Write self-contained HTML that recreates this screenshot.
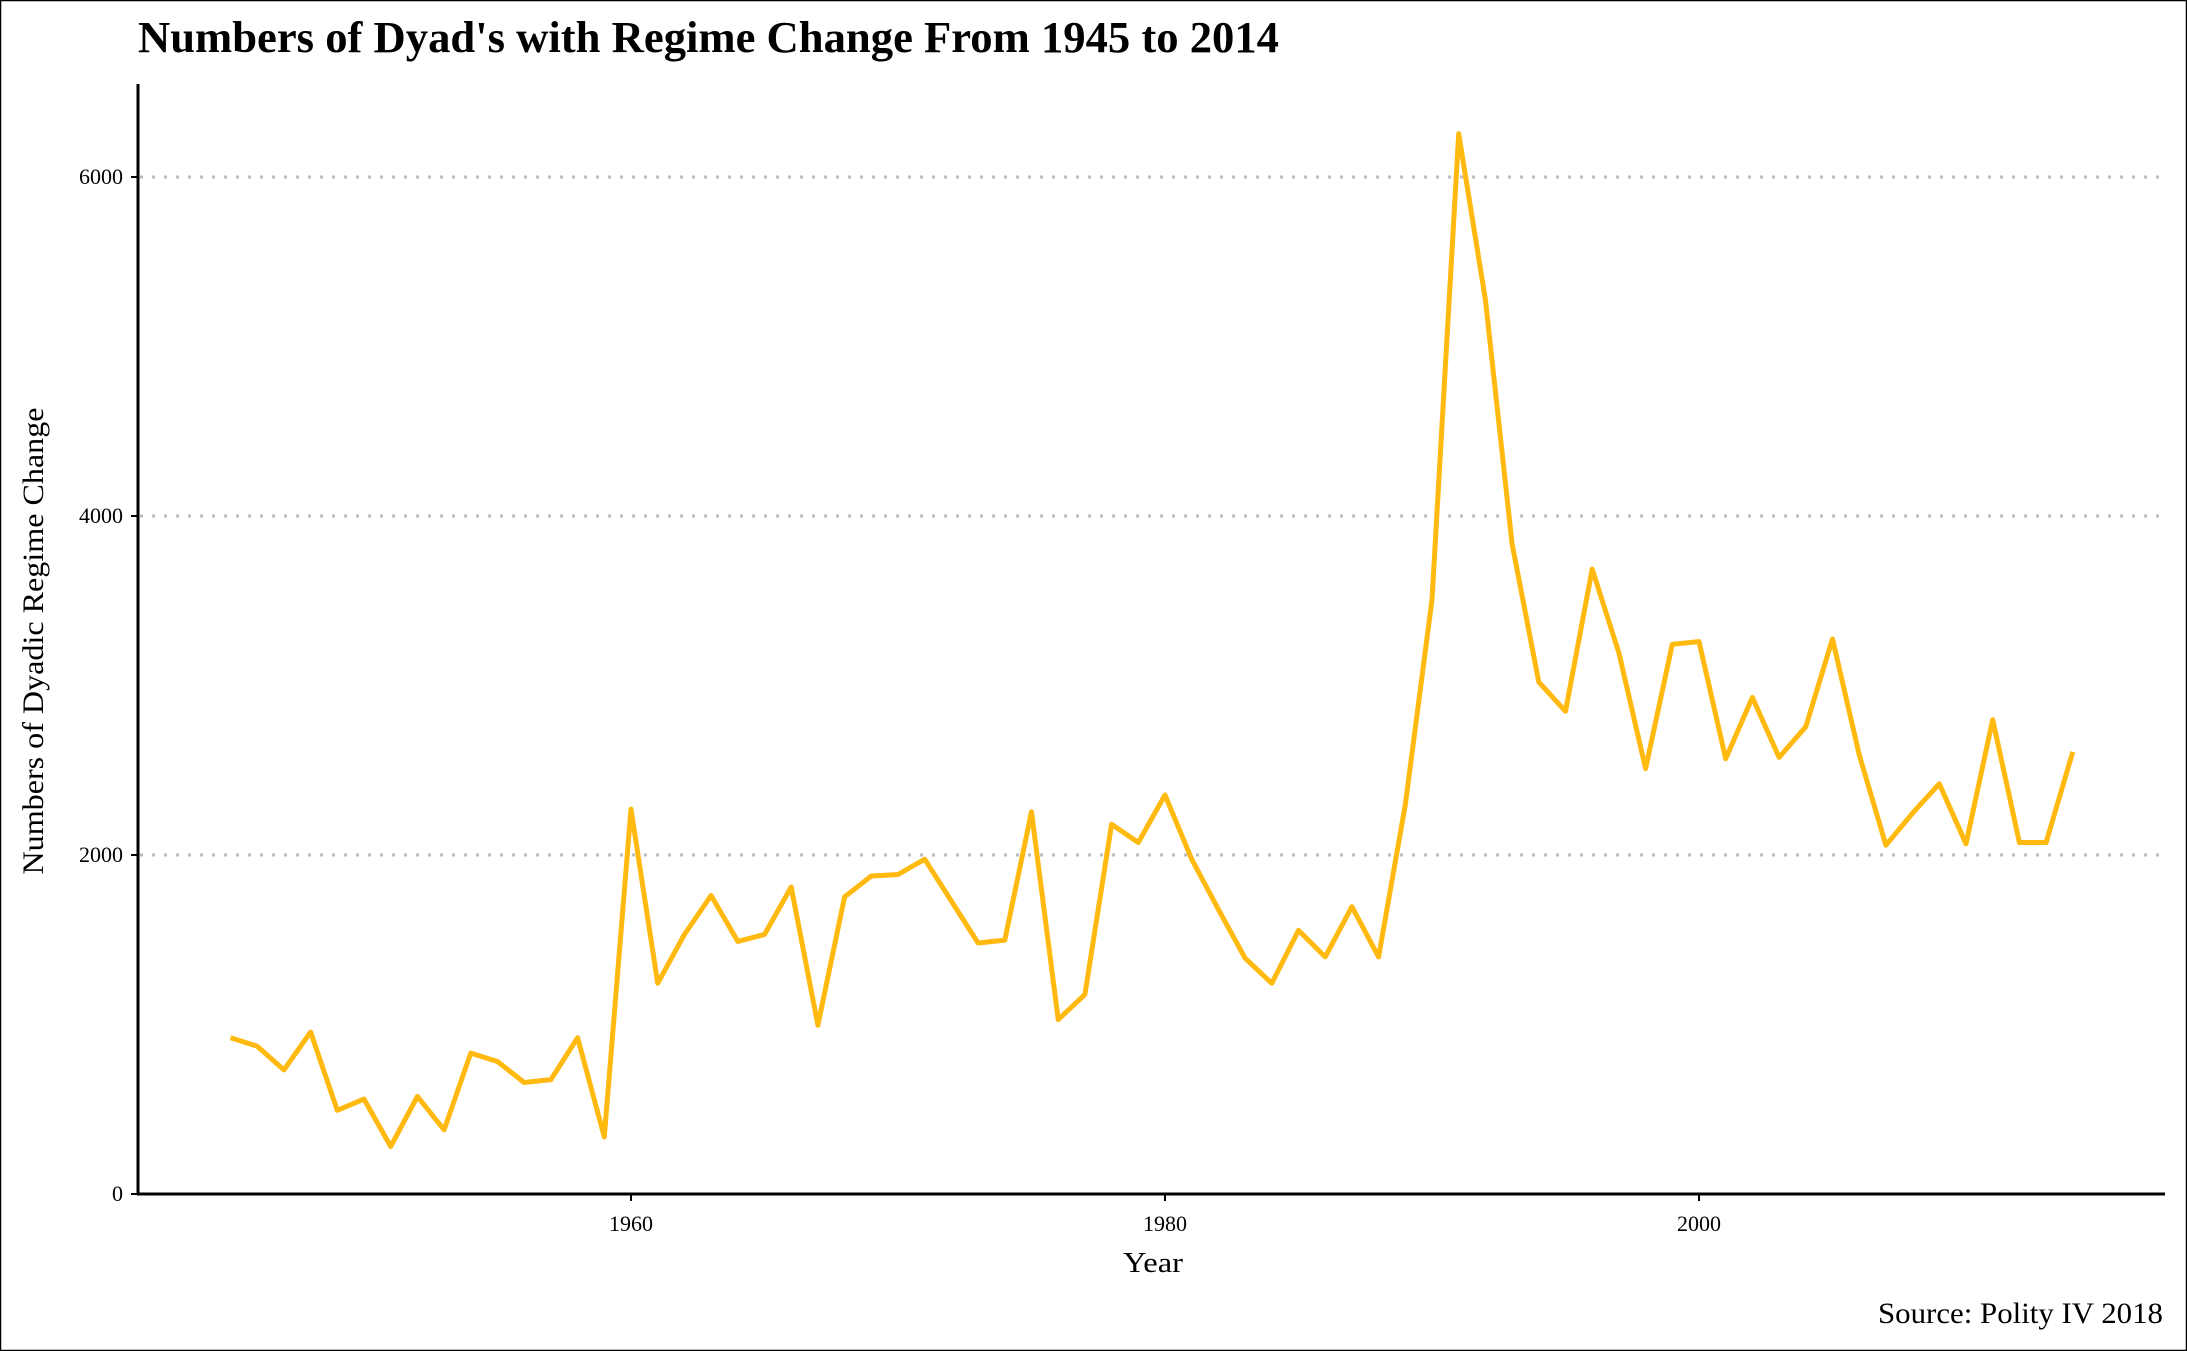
<!DOCTYPE html>
<html><head><meta charset="utf-8"><style>
html,body{margin:0;padding:0;background:#fff;}
svg{display:block;}
text{font-family:"Liberation Serif",serif;fill:#000;}
</style></head><body>
<svg id="chart" width="2187" height="1351" viewBox="0 0 2187 1351">
<rect x="0.5" y="0.5" width="2186" height="1350" fill="#fff" stroke="#000" stroke-width="1.5"/>
<text x="138" y="52" font-size="44" font-weight="bold" textLength="1141" lengthAdjust="spacingAndGlyphs">Numbers of Dyad's with Regime Change From 1945 to 2014</text>
<g id="grid"></g>
<g id="yticks"></g>
<g id="xticks"></g>
<line x1="138" y1="84" x2="138" y2="1195" stroke="#000" stroke-width="3"/>
<line x1="137" y1="1194" x2="2165" y2="1194" stroke="#000" stroke-width="3"/>
<path id="series" fill="none" stroke="#FFB90F" stroke-width="5" stroke-linejoin="round"/>
<text x="1153" y="1272" font-size="29" text-anchor="middle" textLength="60" lengthAdjust="spacingAndGlyphs">Year</text>
<text transform="translate(43,641) rotate(-90)" font-size="30" text-anchor="middle" textLength="467" lengthAdjust="spacingAndGlyphs">Numbers of Dyadic Regime Change</text>
<text x="2163" y="1323" font-size="30" text-anchor="end" textLength="285" lengthAdjust="spacingAndGlyphs">Source: Polity IV 2018</text>
</svg>
<script>
const years = [1945,1946,1947,1948,1949,1950,1951,1952,1953,1954,1955,1956,1957,1958,1959,1960,1961,1962,1963,1964,1965,1966,1967,1968,1969,1970,1971,1972,1973,1974,1975,1976,1977,1978,1979,1980,1981,1982,1983,1984,1985,1986,1987,1988,1989,1990,1991,1992,1993,1994,1995,1996,1997,1998,1999,2000,2001,2002,2003,2004,2005,2006,2007,2008,2009,2010,2011,2012,2013,2014];
const values = [922,872,732,955,494,560,280,576,379,831,782,658,675,922,337,2271,1243,1531,1761,1490,1531,1811,996,1753,1876,1885,1975,1728,1481,1498,2255,1029,1177,2181,2074,2354,1975,1679,1391,1243,1555,1399,1695,1399,2296,3506,6255,5276,3835,3020,2848,3687,3193,2510,3243,3259,2568,2930,2576,2757,3275,2592,2058,2247,2420,2066,2798,2074,2074,2609];
const yTicks = [0,2000,4000,6000];
const xTicks = [1960,1980,2000];
const NS='http://www.w3.org/2000/svg';
function xs(yr){return 631+(yr-1960)*26.7;}
function ys(v){return 1194-v*0.1695;}
const grid=document.getElementById('grid'), yt=document.getElementById('yticks'), xt=document.getElementById('xticks');
yTicks.forEach(t=>{
  if(t>0){
    const g=document.createElementNS(NS,'line');
    g.setAttribute('x1',140);g.setAttribute('x2',2165);g.setAttribute('y1',ys(t));g.setAttribute('y2',ys(t));
    g.setAttribute('stroke','#bdbdbd');g.setAttribute('stroke-width','3');g.setAttribute('stroke-dasharray','3,9');
    
    
    grid.appendChild(g);
  }
  const tk=document.createElementNS(NS,'line');
  tk.setAttribute('x1',131);tk.setAttribute('x2',138);tk.setAttribute('y1',ys(t));tk.setAttribute('y2',ys(t));
  tk.setAttribute('stroke','#000');tk.setAttribute('stroke-width','2');
  
  
  yt.appendChild(tk);
  const tx=document.createElementNS(NS,'text');
  tx.setAttribute('x',123);tx.setAttribute('y',ys(t)+7);tx.setAttribute('text-anchor','end');tx.setAttribute('font-size','22');
  tx.textContent=t;
  
  
  yt.appendChild(tx);
});
xTicks.forEach(t=>{
  const tk=document.createElementNS(NS,'line');
  tk.setAttribute('x1',xs(t));tk.setAttribute('x2',xs(t));tk.setAttribute('y1',1194);tk.setAttribute('y2',1201);
  tk.setAttribute('stroke','#000');tk.setAttribute('stroke-width','2');
  
  
  xt.appendChild(tk);
  const tx=document.createElementNS(NS,'text');
  tx.setAttribute('x',xs(t));tx.setAttribute('y',1231);tx.setAttribute('text-anchor','middle');tx.setAttribute('font-size','22');
  tx.textContent=t;
  
  
  xt.appendChild(tx);
});
document.getElementById('series').setAttribute('d', years.map((y,i)=>(i?'L':'M')+xs(y).toFixed(1)+','+ys(values[i]).toFixed(1)).join(' '));
</script>
</body></html>
